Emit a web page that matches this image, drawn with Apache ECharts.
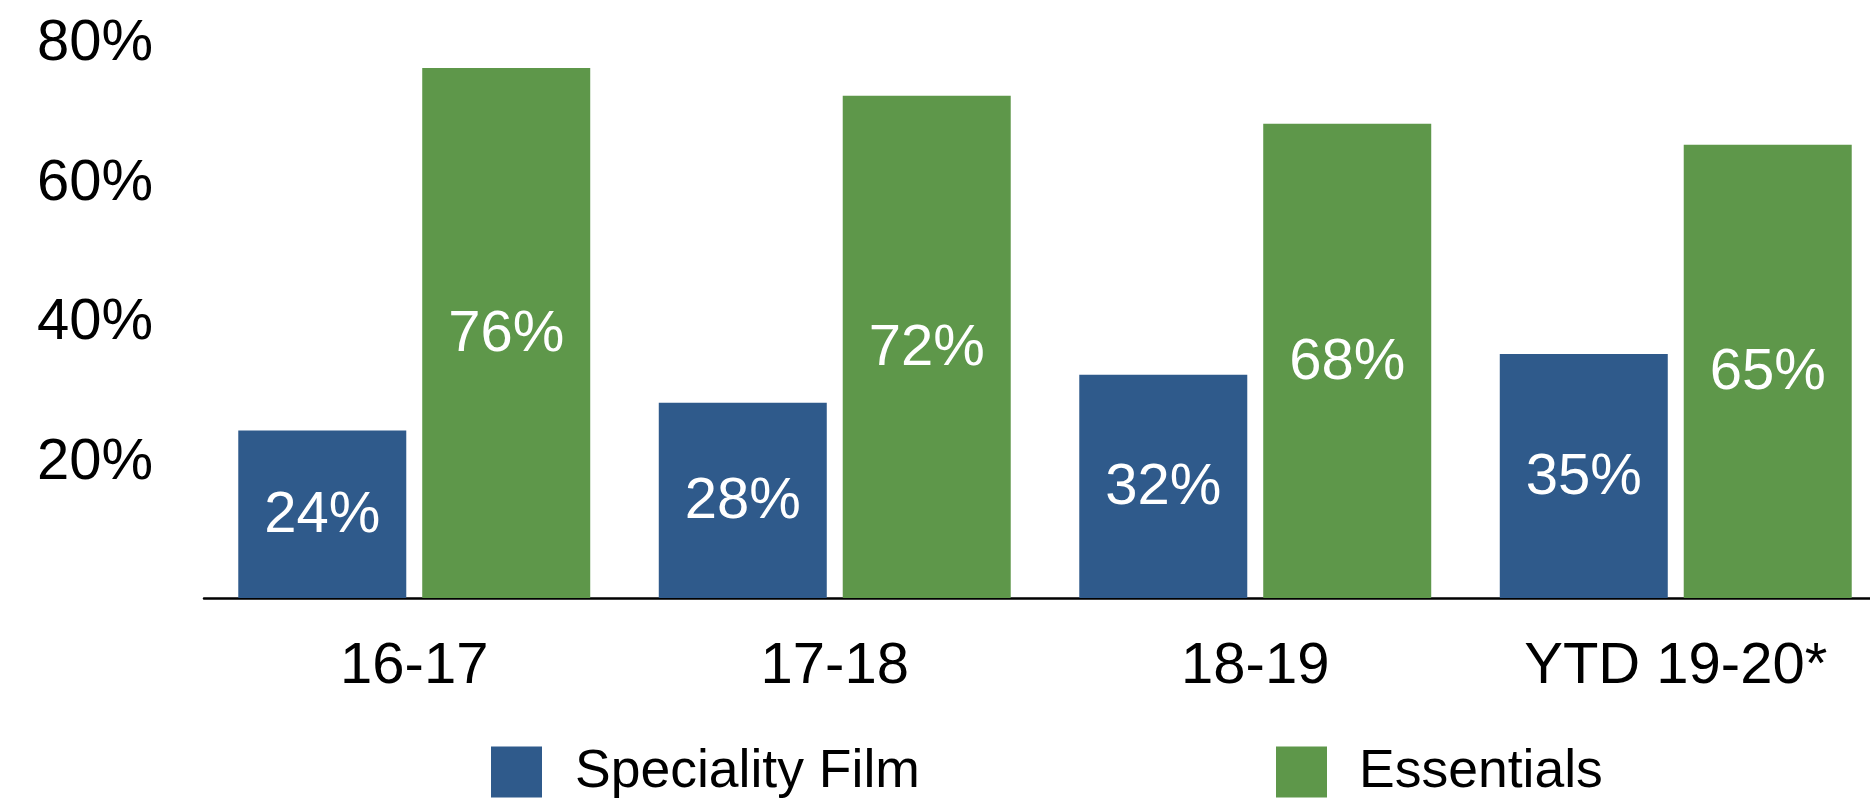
<!DOCTYPE html>
<html>
<head>
<meta charset="utf-8">
<script src="https://cdn.jsdelivr.net/npm/echarts@6/dist/echarts.min.js"></script>
<style>
html,body{margin:0;padding:0;background:#fff;overflow:hidden;}
#chart{width:1886px;height:799px;}
</style>
</head>
<body>
<div id="chart"></div>
<script>
const categories = ['16-17', '17-18', '18-19', 'YTD 19-20*'];
const specialityFilm = [24, 28, 32, 35];
const essentials = [76, 72, 68, 65];
const seriesNames = ['Speciality Film', 'Essentials'];
const yTicks = [0, 20, 40, 60, 80];

const FONT = "'Liberation Sans', Arial, Helvetica, sans-serif";
const BLUE = '#2f5a8b';
const GREEN = '#5e974a';

const chart = echarts.init(document.getElementById('chart'), null, {renderer: 'canvas'});
const labelStyle = {
  show: true,
  position: 'inside',
  offset: [0, 2],
  color: '#ffffff',
  fontFamily: FONT,
  fontSize: 58,
  formatter: p => p.value + '%'
};
chart.setOption({
  animation: false,
  backgroundColor: '#ffffff',
  grid: {left: 204, right: 0, top: 40, bottom: 201, containLabel: false},
  legend: [
    {
      left: 486, top: 740, itemWidth: 51, itemHeight: 51, icon: 'rect',
      data: [seriesNames[0]],
      textStyle: {fontFamily: FONT, fontSize: 53.5, color: '#000', padding: [16, 0, 0, 28]}
    },
    {
      left: 1271, top: 740, itemWidth: 51, itemHeight: 51, icon: 'rect',
      data: [seriesNames[1]],
      textStyle: {fontFamily: FONT, fontSize: 53.5, color: '#000', padding: [16, 0, 0, 27]}
    }
  ],
  xAxis: {
    type: 'category',
    data: categories,
    axisLine: {show: true, lineStyle: {color: '#000', width: 2.5}},
    axisTick: {show: false},
    axisLabel: {fontFamily: FONT, fontSize: 58, color: '#000', margin: 40}
  },
  yAxis: {
    type: 'value',
    min: yTicks[0],
    max: yTicks[yTicks.length - 1],
    interval: yTicks[1] - yTicks[0],
    axisLine: {show: false},
    axisTick: {show: false},
    splitLine: {show: false},
    axisLabel: {
      margin: 51,
      formatter: v => v === 0 ? '' : '{a|' + v + '%}',
      rich: {
        a: {fontFamily: FONT, fontSize: 58, color: '#000', padding: [8, 0, 0, 0]}
      }
    }
  },
  series: [
    {
      name: seriesNames[0], type: 'bar', data: specialityFilm,
      barWidth: 168, barGap: '9.5%',
      itemStyle: {color: BLUE},
      label: labelStyle
    },
    {
      name: seriesNames[1], type: 'bar', data: essentials,
      barWidth: 168, barGap: '9.5%',
      itemStyle: {color: GREEN},
      label: labelStyle
    }
  ]
});
</script>
</body>
</html>
